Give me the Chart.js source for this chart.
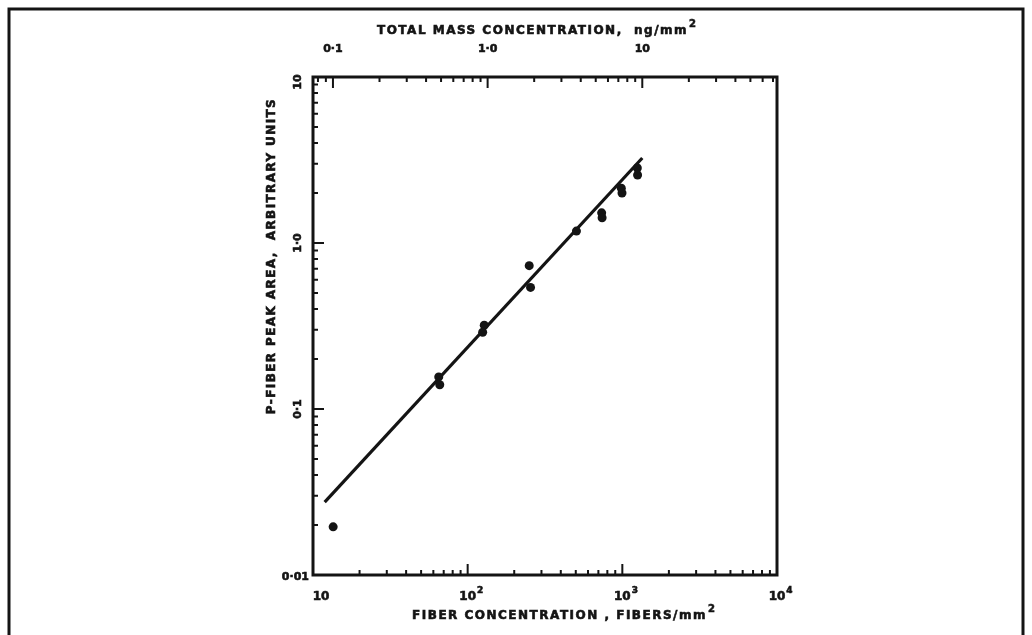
<!DOCTYPE html>
<html>
<head>
<meta charset="utf-8">
<title>P-fiber peak area vs fiber concentration</title>
<script src="https://cdn.jsdelivr.net/npm/chart.js@4.4.1/dist/chart.umd.min.js"></script>
<style>
  html, body { margin: 0; padding: 0; background: #fff; }
  canvas { display: block; }
</style>
</head>
<body>
<canvas id="calChart" width="1032" height="635"></canvas>
<script>
// measured samples (fibers/mm2 vs peak area)
const fiberConc = [13.5, 65, 66, 128, 125, 250, 255, 505, 735, 740, 985, 995, 1250, 1255];
const peakArea  = [0.0195, 0.156, 0.14, 0.32, 0.29, 0.73, 0.54, 1.18, 1.52, 1.42, 2.14, 2.0, 2.83, 2.57];

// fitted calibration line end points
const fitConc = [11.9, 1346];
const fitArea = [0.0275, 3.25];

// ng/mm2 carried by one fiber/mm2 (top axis)
const massPerFiber = 0.00743;

const fiberTicks = [10, 100, 1000, 10000];
const fiberBase  = ['10', '10', '10', '10'];
const fiberExp   = ['', '2', '3', '4'];
const massTicks  = [0.1, 1, 10];
const massLabels = ['0·1', '1·0', '10'];
const areaTicks  = [0.01, 0.1, 1, 10];
const areaLabels = ['0·01', '0·1', '1·0', '10'];

const ink = '#141414';
const face = '"DejaVu Sans", Verdana, sans-serif';

// 1..9 steps in every decade between min and max
function decadeTicks(min, max) {
    const out = [];
    for (let e = Math.floor(Math.log10(min)); e <= Math.ceil(Math.log10(max)); e++) {
        for (let m = 1; m <= 9; m++) {
            const v = m * Math.pow(10, e);
            if (v >= min * 0.9999 && v <= max * 1.0001) out.push({ value: v, major: m === 1 });
        }
    }
    return out;
}

// heavy lettering: fill plus a thin outline
function inkText(ctx, text, x, y, spacing) {
    ctx.letterSpacing = (spacing || 0) + 'px';
    ctx.fillText(text, x, y);
    ctx.lineWidth = 0.6;
    ctx.strokeText(text, x, y);
    ctx.letterSpacing = '0px';
}

// title with a raised "2" after the unit
function titleWithSquare(ctx, text, cx, y, spacing) {
    ctx.font = 'bold 12px ' + face;
    ctx.letterSpacing = spacing + 'px';
    const w = ctx.measureText(text).width;
    ctx.letterSpacing = '0px';
    ctx.font = 'bold 10px ' + face;
    const sw = ctx.measureText('2').width;
    const x0 = cx - (w + sw) / 2;
    ctx.textAlign = 'left';
    ctx.font = 'bold 12px ' + face;
    inkText(ctx, text, x0, y, spacing);
    ctx.font = 'bold 10px ' + face;
    inkText(ctx, '2', x0 + w + 1, y - 7, 0);
    ctx.textAlign = 'center';
}

const letteredAxes = {
    id: 'letteredAxes',
    afterDraw(chart) {
        const { ctx, chartArea: a, scales } = chart;
        const sx = scales.x, sm = scales.mass, sy = scales.y;
        ctx.save();
        ctx.strokeStyle = ink;
        ctx.fillStyle = ink;
        ctx.lineCap = 'butt';

        // page frame
        ctx.lineWidth = 3;
        ctx.beginPath();
        ctx.moveTo(9, 640); ctx.lineTo(9, 9); ctx.lineTo(1023, 9); ctx.lineTo(1023, 640);
        ctx.stroke();

        // plot box
        ctx.strokeRect(a.left, a.top, a.right - a.left, a.bottom - a.top);

        // inward ticks: bottom, top, left
        ctx.lineWidth = 2;
        ctx.beginPath();
        decadeTicks(sx.min, sx.max).forEach(t => {
            const px = sx.getPixelForValue(t.value);
            ctx.moveTo(px, a.bottom); ctx.lineTo(px, a.bottom - (t.major ? 11 : 5));
        });
        decadeTicks(sm.min, sm.max).forEach(t => {
            const px = sm.getPixelForValue(t.value);
            ctx.moveTo(px, a.top); ctx.lineTo(px, a.top + (t.major ? 11 : 5));
        });
        decadeTicks(sy.min, sy.max).forEach(t => {
            const py = sy.getPixelForValue(t.value);
            ctx.moveTo(a.left, py); ctx.lineTo(a.left + (t.major ? 11 : 5), py);
        });
        ctx.stroke();

        // bottom tick labels with exponents
        ctx.textBaseline = 'middle';
        fiberTicks.forEach((v, i) => {
            const px = sx.getPixelForValue(v) + (i === 0 ? 8 : 0);
            ctx.font = 'bold 12px ' + face;
            ctx.textAlign = 'center';
            inkText(ctx, fiberBase[i], px, a.bottom + 22);
            if (fiberExp[i]) {
                const w = ctx.measureText(fiberBase[i]).width;
                ctx.font = 'bold 9px ' + face;
                ctx.textAlign = 'left';
                inkText(ctx, fiberExp[i], px + w / 2 + 1, a.bottom + 16);
            }
        });

        // top tick labels
        ctx.font = 'bold 11px ' + face;
        ctx.textAlign = 'center';
        massTicks.forEach((v, i) => {
            inkText(ctx, massLabels[i], sm.getPixelForValue(v), a.top - 28);
        });

        // left tick labels, upright ones turned on their side
        areaTicks.forEach((v, i) => {
            const py = sy.getPixelForValue(v);
            if (i === 0) {
                ctx.textAlign = 'right';
                inkText(ctx, areaLabels[i], a.left - 4, py + 2);
            } else {
                ctx.save();
                ctx.translate(a.left - 15, py + (i === areaTicks.length - 1 ? 5 : 0));
                ctx.rotate(-Math.PI / 2);
                ctx.textAlign = 'center';
                inkText(ctx, areaLabels[i], 0, 0);
                ctx.restore();
            }
        });

        // axis titles
        const midX = (a.left + a.right) / 2;
        titleWithSquare(ctx, 'TOTAL MASS CONCENTRATION,  ng/mm', midX - 9, a.top - 46, 1.5);
        titleWithSquare(ctx, 'FIBER CONCENTRATION , FIBERS/mm', midX + 18, a.bottom + 41, 1.5);

        ctx.save();
        ctx.translate(a.left - 41, a.top + 179);
        ctx.rotate(-Math.PI / 2);
        ctx.font = 'bold 12px ' + face;
        ctx.textAlign = 'center';
        inkText(ctx, 'P-FIBER PEAK AREA,  ARBITRARY UNITS', 0, 0, 1.4);
        ctx.restore();

        ctx.restore();
    }
};

const flatScale = s => { if (s.isHorizontal()) s.height = 0; else s.width = 0; };

const points = fiberConc.map((x, i) => ({ x, y: peakArea[i] }));
const fitLine = fitConc.map((x, i) => ({ x, y: fitArea[i] }));

new Chart(document.getElementById('calChart'), {
    type: 'scatter',
    data: {
        datasets: [
            { data: points, backgroundColor: ink, borderWidth: 0, pointRadius: 4.5 },
            { data: fitLine, showLine: true, borderColor: ink, borderWidth: 3.2, pointRadius: 0, fill: false }
        ]
    },
    options: {
        responsive: false,
        animation: false,
        layout: { autoPadding: false, padding: { left: 313, right: 255, top: 77, bottom: 60 } },
        plugins: { legend: { display: false }, tooltip: { enabled: false } },
        scales: {
            x: {
                type: 'logarithmic', position: 'bottom', min: 10, max: 10000,
                grid: { display: false }, border: { display: false }, ticks: { display: false },
                afterFit: flatScale
            },
            mass: {
                type: 'logarithmic', position: 'top', axis: 'x',
                min: 10 * massPerFiber, max: 10000 * massPerFiber,
                grid: { display: false }, border: { display: false }, ticks: { display: false },
                afterFit: flatScale
            },
            y: {
                type: 'logarithmic', min: 0.01, max: 10,
                grid: { display: false }, border: { display: false }, ticks: { display: false },
                afterFit: flatScale
            }
        }
    },
    plugins: [letteredAxes]
});
</script>
</body>
</html>
